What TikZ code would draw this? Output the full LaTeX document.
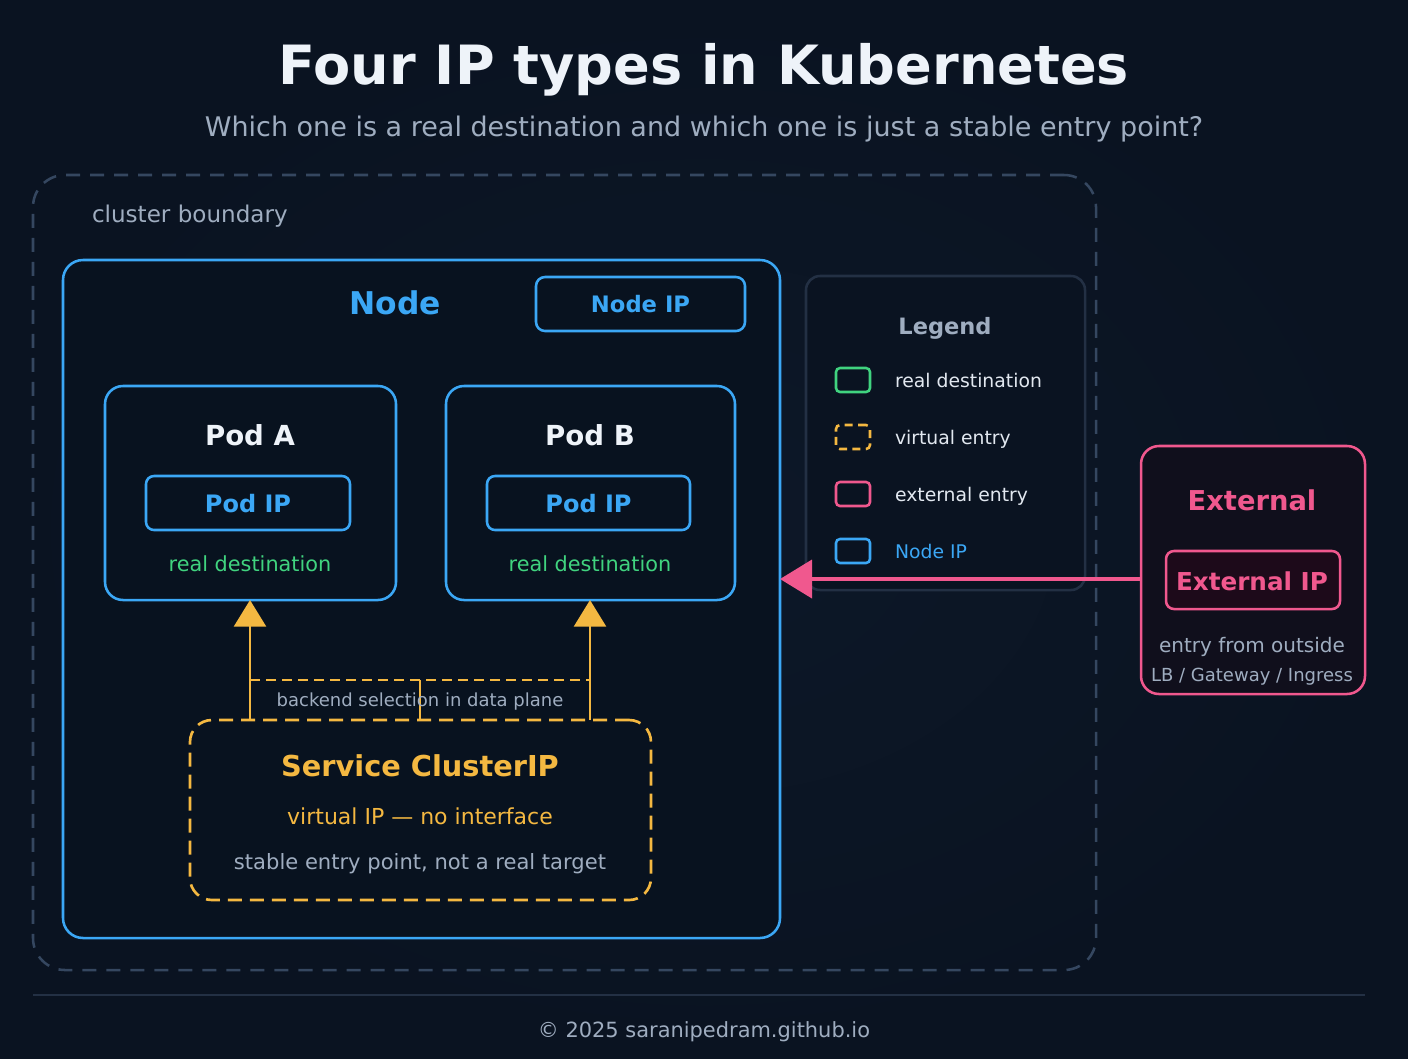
\documentclass[tikz,border=0pt]{standalone}
\usepackage{fontspec}
\setmainfont{DejaVu Sans}
\usetikzlibrary{arrows.meta}
\definecolor{bg}{HTML}{0A1321}
\definecolor{bgmid}{HTML}{0D1828}
\definecolor{titlec}{HTML}{EEF3F9}
\definecolor{greyc}{HTML}{9FADC0}
\definecolor{bluec}{HTML}{3BA7F5}
\definecolor{greenc}{HTML}{40D37F}
\definecolor{yellowc}{HTML}{F4B841}
\definecolor{pinkc}{HTML}{F0588E}
\definecolor{slatec}{HTML}{354760}
\definecolor{legendc}{HTML}{233044}
\definecolor{whitec}{HTML}{E2E8F0}
\definecolor{boxfill}{HTML}{08121F}
\definecolor{extfill}{HTML}{100F1C}
\definecolor{extipfill}{HTML}{1D0A1A}
\def\u{0.75pt}
\newcommand\fsz[1]{\fontsize{#1pt}{#1pt}\selectfont}
\tikzset{
  box/.style={draw, rectangle, inner sep=0pt, outer sep=0pt},
  txt/.style={inner sep=0pt, outer sep=0pt, anchor=base},
}
\begin{document}
\begin{tikzpicture}[x=0.75pt,y=-0.75pt]
\useasboundingbox (0,0) rectangle (1408,1058);
\shade[inner color=bgmid, outer color=bg] (0,0) rectangle (1408,1058);

% title
\node[txt, text=titlec, font=\fsz{40.6}\bfseries] (title) at (704,84) {Four IP types in Kubernetes};
\node[txt, text=greyc, font=\fsz{20.25}] (subtitle) at (704,136) {Which one is a real destination and which one is just a stable entry point?};

% cluster
\node[box, draw=slatec, line width=1.9pt, dash pattern=on 10.5pt off 7.5pt, rounded corners=32*\u, minimum width=1063*\u, minimum height=795*\u] (cluster) at (564.5,572.5) {};
\node[txt, anchor=base west, text=greyc, font=\fsz{17.3}] (clusterlbl) at (92,222) {cluster boundary};

% node box
\node[box, draw=bluec, fill=boxfill, line width=1.9pt, rounded corners=20*\u, minimum width=717*\u, minimum height=678*\u] (nodebox) at (421.5,599) {};
\node[txt, text=bluec, font=\fsz{23.5}\bfseries] (nodelbl) at (395,314) {Node};
\node[box, draw=bluec, fill=boxfill, line width=1.9pt, rounded corners=9*\u, minimum width=209*\u, minimum height=54*\u] (nodeip) at (640.5,304) {};
\node[txt, text=bluec, font=\fsz{17}\bfseries] at (640.5,312) {Node IP};

% pods
\node[box, draw=bluec, fill=boxfill, line width=1.9pt, rounded corners=18*\u, minimum width=291*\u, minimum height=214*\u] (podA) at (250.5,493) {};
\node[box, draw=bluec, fill=boxfill, line width=1.9pt, rounded corners=18*\u, minimum width=289*\u, minimum height=214*\u] (podB) at (590.5,493) {};
\node[txt, text=titlec, font=\fsz{20.7}\bfseries] at (250,445) {Pod A};
\node[txt, text=titlec, font=\fsz{20.7}\bfseries] at (590,445) {Pod B};
\node[box, draw=bluec, fill=boxfill, line width=1.9pt, rounded corners=8*\u, minimum width=204*\u, minimum height=54*\u] (podipA) at (248,503) {};
\node[box, draw=bluec, fill=boxfill, line width=1.9pt, rounded corners=8*\u, minimum width=203*\u, minimum height=54*\u] (podipB) at (588.5,503) {};
\node[txt, text=bluec, font=\fsz{18}\bfseries] at (248,512) {Pod IP};
\node[txt, text=bluec, font=\fsz{18}\bfseries] at (588.5,512) {Pod IP};
\node[txt, text=greenc, font=\fsz{15.6}] at (250,571) {real destination};
\node[txt, text=greenc, font=\fsz{15.6}] at (590,571) {real destination};

% service
\node[box, draw=yellowc, fill=boxfill, line width=2pt, dash pattern=on 10.5pt off 6pt, rounded corners=22*\u, minimum width=461*\u, minimum height=180*\u] (svc) at (420.5,810) {};
\node[txt, text=yellowc, font=\fsz{21.6}\bfseries] at (420,776) {Service ClusterIP};
\node[txt, text=yellowc, font=\fsz{16.5}] at (420,824) {virtual IP — no interface};
\node[txt, text=greyc, font=\fsz{15.8}] at (420,869) {stable entry point, not a real target};

% backend selection
\coordinate (selL) at (250,680);
\coordinate (selR) at (590,680);
\coordinate (selM) at (420,680);
\draw[yellowc, line width=2.1pt, dash pattern=on 7.5pt off 4.5pt] (selL) -- (selR);
\draw[yellowc, line width=2.1pt] (selM) -- (selM |- svc.north);
\draw[yellowc, line width=2.1pt, -{Triangle[length=20pt,width=24pt]}] (svc.north -| selL) -- (podA.south -| selL);
\draw[yellowc, line width=2.1pt, -{Triangle[length=20pt,width=24pt]}] (svc.north -| selR) -- (podB.south -| selR);
\node[txt, text=greyc, font=\fsz{13.5}] at (420,706) {backend selection in data plane};

% legend
\node[box, draw=legendc, fill=bg, line width=1.9pt, rounded corners=14*\u, minimum width=279*\u, minimum height=314*\u] (legend) at (945.5,433) {};
\node[txt, text=greyc, font=\fsz{16.9}\bfseries] at (945,334) {Legend};
\node[box, draw=greenc, line width=1.9pt, rounded corners=4*\u, minimum width=34*\u, minimum height=24*\u] (sw1) at (853,380) {};
\node[box, draw=yellowc, line width=1.9pt, dash pattern=on 6pt off 4pt, rounded corners=4*\u, minimum width=34*\u, minimum height=24*\u] (sw2) at (853,437) {};
\node[box, draw=pinkc, line width=1.9pt, rounded corners=4*\u, minimum width=34*\u, minimum height=24*\u] (sw3) at (853,494) {};
\node[box, draw=bluec, line width=1.9pt, rounded corners=4*\u, minimum width=34*\u, minimum height=24*\u] (sw4) at (853,551) {};
\node[txt, anchor=base west, text=whitec, font=\fsz{14.1}] at (895,387) {real destination};
\node[txt, anchor=base west, text=whitec, font=\fsz{14.1}] at (895,444) {virtual entry};
\node[txt, anchor=base west, text=whitec, font=\fsz{14.1}] at (895,501) {external entry};
\node[txt, anchor=base west, text=bluec, font=\fsz{14.1}] at (895,558) {Node IP};

% external
\node[box, draw=pinkc, fill=extfill, line width=1.9pt, rounded corners=18*\u, minimum width=224*\u, minimum height=248*\u] (ext) at (1253,570) {};
\node[txt, text=pinkc, font=\fsz{20.5}\bfseries] at (1252,510) {External};
\node[box, draw=pinkc, fill=extipfill, line width=1.9pt, rounded corners=8*\u, minimum width=174*\u, minimum height=58*\u] (extip) at (1253,580) {};
\node[txt, text=pinkc, font=\fsz{18.5}\bfseries] at (1252,590) {External IP};
\node[txt, text=greyc, font=\fsz{15}] at (1252,652) {entry from outside};
\node[txt, text=greyc, font=\fsz{13.5}] at (1252,681) {LB / Gateway / Ingress};

\draw[pinkc, line width=3pt, -{Triangle[length=24pt,width=28.5pt]}] (ext.west |- 0,579) -- (nodebox.east |- 0,579);

% footer
\coordinate (fl) at (33,995);
\coordinate (fr) at (1365,995);
\draw[legendc, line width=1pt] (fl) -- (fr);
\node[txt, text=greyc, font=\fsz{15.7}] at (704,1037) {© 2025 saranipedram.github.io};
\end{tikzpicture}
\end{document}
